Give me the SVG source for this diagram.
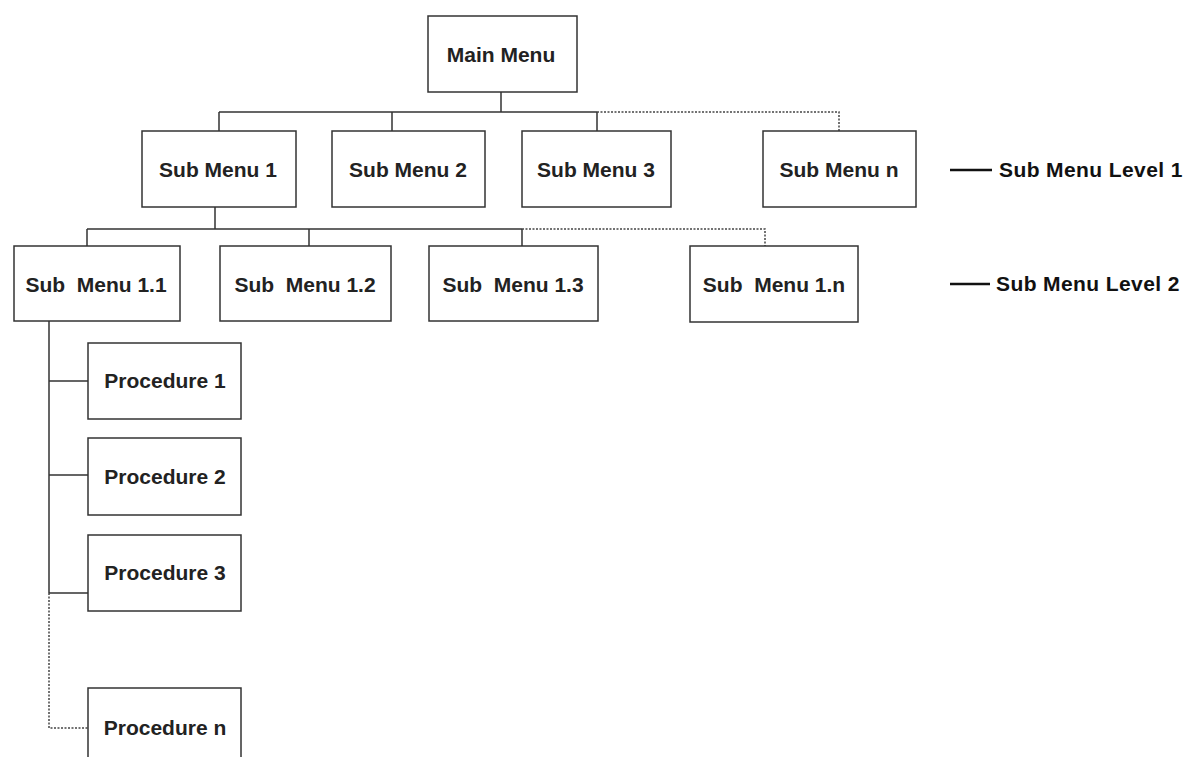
<svg xmlns="http://www.w3.org/2000/svg" width="1186" height="757" viewBox="0 0 1186 757">
<style>
.box{fill:#fff;stroke:#333;stroke-width:1.5}
.t{font-family:"Liberation Sans",Arial,sans-serif;font-weight:bold;font-size:21px;fill:#222;text-anchor:middle;white-space:pre}
.lg{font-family:"Liberation Sans",Arial,sans-serif;font-weight:bold;font-size:21px;letter-spacing:0.4px;fill:#111;white-space:pre}
.s{fill:none;stroke:#333;stroke-width:1.5}
.d{fill:none;stroke:#444;stroke-width:1.5;stroke-dasharray:2 1.5}
</style>
<rect width="1186" height="757" fill="#fff"/>
<g id="connectors">
<path class="s" d="M501 92V112M219 112H597M219 112V131M392 112V131M597 112V131"/>
<path class="d" d="M597 112H839V131"/>
<path class="s" d="M215 207V229M87 229H522M87 229V246M309 229V246M522 229V246"/>
<path class="d" d="M522 229H765V246"/>
<path class="s" d="M49 321V593M49 381H88M49 475H88M49 593H88"/>
<path class="d" d="M49 593V728H88"/>
</g>
<g id="main"><rect class="box" x="428" y="16" width="149" height="76"/><text class="t" x="501" y="62">Main Menu</text></g>
<g id="sm1"><rect class="box" x="142" y="131" width="154" height="76"/><text class="t" x="218" y="177">Sub Menu 1</text></g>
<g id="sm2"><rect class="box" x="332" y="131" width="153" height="76"/><text class="t" x="408" y="177">Sub Menu 2</text></g>
<g id="sm3"><rect class="box" x="522" y="131" width="149" height="76"/><text class="t" x="596" y="177">Sub Menu 3</text></g>
<g id="smn"><rect class="box" x="763" y="131" width="153" height="76"/><text class="t" x="839" y="177">Sub Menu n</text></g>
<g id="sm11"><rect class="box" x="14" y="246" width="166" height="75"/><text class="t" x="96" y="292">Sub  Menu 1.1</text></g>
<g id="sm12"><rect class="box" x="220" y="246" width="171" height="75"/><text class="t" x="305" y="292">Sub  Menu 1.2</text></g>
<g id="sm13"><rect class="box" x="429" y="246" width="169" height="75"/><text class="t" x="513" y="292">Sub  Menu 1.3</text></g>
<g id="sm1n"><rect class="box" x="690" y="246" width="168" height="76"/><text class="t" x="774" y="292">Sub  Menu 1.n</text></g>
<g id="p1"><rect class="box" x="88" y="343" width="153" height="76"/><text class="t" x="165" y="388">Procedure 1</text></g>
<g id="p2"><rect class="box" x="88" y="438" width="153" height="77"/><text class="t" x="165" y="484">Procedure 2</text></g>
<g id="p3"><rect class="box" x="88" y="535" width="153" height="76"/><text class="t" x="165" y="580">Procedure 3</text></g>
<g id="pn"><rect class="box" x="88" y="688" width="153" height="80"/><text class="t" x="165" y="735">Procedure n</text></g>
<g id="legend1"><line x1="950" y1="170" x2="992" y2="170" stroke="#111" stroke-width="2.5"/><text class="lg" x="999" y="177">Sub Menu Level 1</text></g>
<g id="legend2"><line x1="950" y1="284" x2="990" y2="284" stroke="#111" stroke-width="2.5"/><text class="lg" x="996" y="291">Sub Menu Level 2</text></g>
</svg>
